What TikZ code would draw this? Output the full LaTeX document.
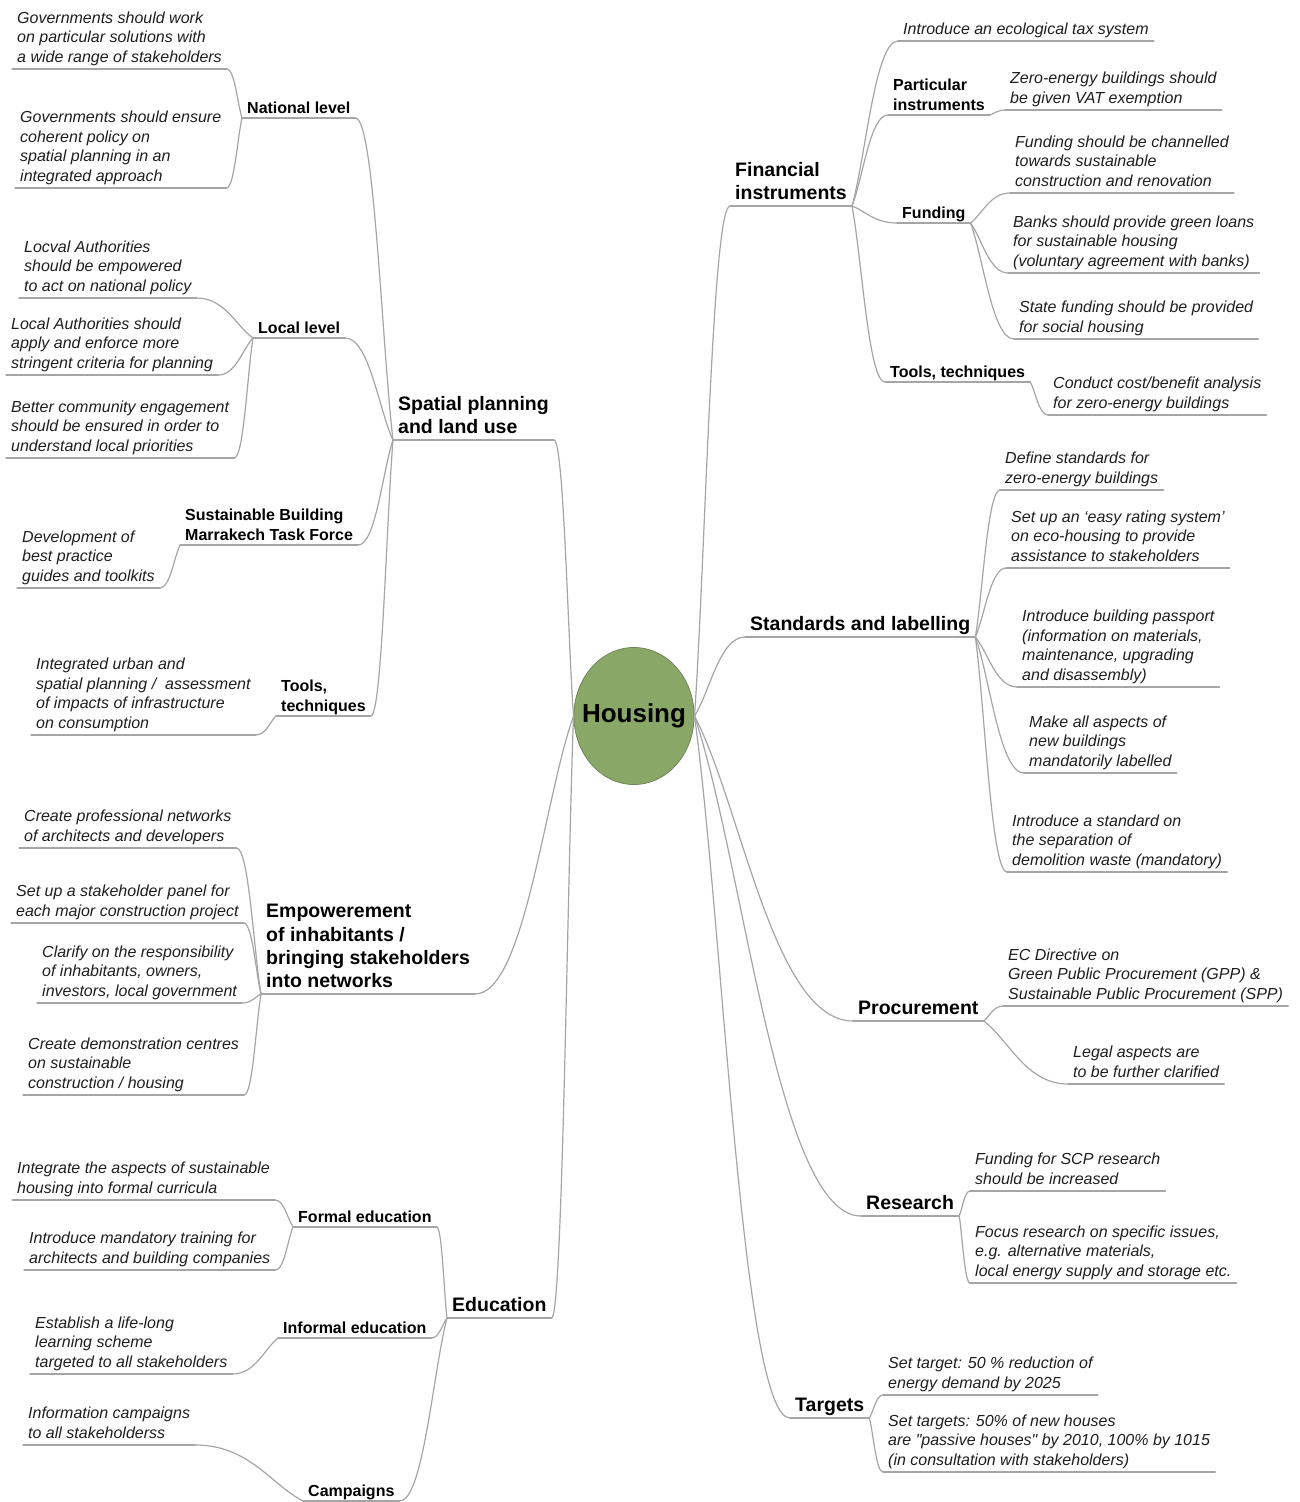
\documentclass[tikz,border=0pt]{standalone}
\usepackage{fontspec}
\setmainfont{Liberation Sans}
\usetikzlibrary{shapes.geometric, calc}
\definecolor{linegray}{RGB}{165,165,165}
\definecolor{textgray}{RGB}{30,30,30}
\definecolor{rootgreen}{RGB}{137,168,103}
\definecolor{rootline}{RGB}{112,132,92}

\begin{document}
\begin{tikzpicture}[x=1pt, y=-1pt,
	root/.style={ellipse, fill=rootgreen, draw=rootline, line width=0.8pt, minimum height=137pt, inner xsep=-9.5pt, inner ysep=0pt, font=\fontsize{26}{30}\selectfont\bfseries},
	under/.style={draw=linegray, line width=1.2pt, line cap=round},
	branch/.style={anchor=south west, align=left, inner xsep=5pt, inner ysep=1pt, font=\fontsize{19.5}{23.3}\selectfont\bfseries, execute at end node={\rule[-5pt]{0pt}{5pt}}, append after command={(\tikzlastnode.south west) edge[under] (\tikzlastnode.south east)}},
	topic/.style={anchor=south west, align=left, inner xsep=5pt, inner ysep=0.5pt, font=\fontsize{16}{19.5}\selectfont\bfseries, execute at end node={\rule[-4pt]{0pt}{4pt}}, append after command={(\tikzlastnode.south west) edge[under] (\tikzlastnode.south east)}},
	leaf/.style={anchor=south west, align=left, inner xsep=5pt, inner ysep=2pt, text=textgray, font=\fontsize{16}{19.5}\selectfont\itshape, execute at end node={\rule[-4.5pt]{0pt}{4.5pt}}, append after command={(\tikzlastnode.south west) edge[under] (\tikzlastnode.south east)}},
	link/.style={under, to path={let \p1=(\tikztostart), \p2=(\tikztotarget) in .. controls ({0.7*\x1+0.3*\x2},{0.7*\y1+0.3*\y2}) and ({0.5*\x1+0.5*\x2},\y2) .. (\tikztotarget)}}]
	\useasboundingbox (0,0) rectangle (1300,1502);

	\node[root] (housing) at (634,716) {Housing};

	\node[branch] (spatial) at (393,440) {Spatial planning\\and land use};
	\node[topic] (national) at (242,118) {National level};
	\node[leaf] (gov1) at (12,69) {Governments should work\\on particular solutions with\\a wide range of stakeholders};
	\node[leaf] (gov2) at (15,188) {Governments should ensure\\coherent policy on\\spatial planning in an\\integrated approach};
	\node[topic] (local) at (253,338) {Local level};
	\node[leaf] (auth1) at (19,298) {Locval Authorities\\should be empowered\\to act on national policy};
	\node[leaf] (auth2) at (6,375) {Local Authorities should\\apply and enforce more\\stringent criteria for planning};
	\node[leaf] (auth3) at (6,458) {Better community engagement\\should be ensured in order to\\understand local priorities};
	\node[topic] (taskforce) at (180,545) {Sustainable Building\\Marrakech Task Force};
	\node[leaf] (guides) at (17,588) {Development of\\best practice\\guides and toolkits};
	\node[topic] (techspat) at (276,716) {Tools,\\techniques};
	\node[leaf] (urban) at (31,735) {Integrated urban and\\spatial planning /~ assessment\\of impacts of infrastructure\\on consumption};

	\node[branch] (empower) at (261,994) {Empowerement\\of inhabitants /\\bringing stakeholders\\into networks};
	\node[leaf] (net1) at (19,848) {Create professional networks\\of architects and developers};
	\node[leaf] (net2) at (11,923) {Set up a stakeholder panel for\\each major construction project};
	\node[leaf] (net3) at (37,1003) {Clarify on the responsibility\\of inhabitants, owners,\\investors, local government};
	\node[leaf] (net4) at (23,1095) {Create demonstration centres\\on sustainable\\construction / housing};

	\node[branch] (edu) at (447,1318) {Education};
	\node[topic] (formal) at (293,1227) {Formal education};
	\node[leaf] (form1) at (12,1200) {Integrate the aspects of sustainable\\housing into formal curricula};
	\node[leaf] (form2) at (24,1270) {Introduce mandatory training for\\architects and building companies};
	\node[topic] (informal) at (278,1338) {Informal education};
	\node[leaf] (inf1) at (30,1374) {Establish a life-long\\learning scheme\\targeted to all stakeholders};
	\node[topic] (campaigns) at (303,1501) {Campaigns};
	\node[leaf] (camp1) at (23,1445) {Information campaigns\\to all stakeholderss};

	\node[branch] (fin) at (730,206) {Financial\\instruments};
	\node[leaf] (tax) at (898,41) {Introduce an ecological tax system};
	\node[topic] (particular) at (888,115) {Particular\\instruments};
	\node[leaf] (vat) at (1005,110) {Zero-energy buildings should\\be given VAT exemption};
	\node[topic] (funding) at (897,223) {Funding};
	\node[leaf] (fund1) at (1010,193) {Funding should be channelled\\towards sustainable\\construction and renovation};
	\node[leaf] (fund2) at (1008,273) {Banks should provide green loans\\for sustainable housing\\(voluntary agreement with banks)};
	\node[leaf] (fund3) at (1014,339) {State funding should be provided\\for social housing};
	\node[topic] (techfin) at (885,382) {Tools, techniques};
	\node[leaf] (cost) at (1048,415) {Conduct cost/benefit analysis\\for zero-energy buildings};

	\node[branch] (std) at (745,637) {Standards and labelling};
	\node[leaf] (std1) at (1000,490) {Define standards for\\zero-energy buildings};
	\node[leaf] (std2) at (1006,568) {Set up an `easy rating system'\\on eco-housing to provide\\assistance to stakeholders};
	\node[leaf] (std3) at (1017,687) {Introduce building passport\\(information on materials,\\maintenance, upgrading\\and disassembly)};
	\node[leaf] (std4) at (1024,773) {Make all aspects of\\new buildings\\mandatorily labelled};
	\node[leaf] (std5) at (1007,872) {Introduce a standard on\\the separation of\\demolition waste (mandatory)};

	\node[branch] (proc) at (853,1021) {Procurement};
	\node[leaf] (proc1) at (1003,1006) {EC Directive on\\Green Public Procurement (GPP) \&\\Sustainable Public Procurement (SPP)};
	\node[leaf] (proc2) at (1068,1084) {Legal aspects are\\to be further clarified};

	\node[branch] (res) at (861,1216) {Research};
	\node[leaf] (res1) at (970,1191) {Funding for SCP research\\should be increased};
	\node[leaf] (res2) at (970,1283) {Focus research on specific issues,\\e.g. alternative materials,\\local energy supply and storage etc.};

	\node[branch] (targets) at (790,1418) {Targets};
	\node[leaf] (tgt1) at (883,1395) {Set target: 50 \% reduction of\\energy demand by 2025};
	\node[leaf] (tgt2) at (883,1472) {Set targets: 50\% of new houses\\are \textquotedbl passive houses\textquotedbl{} by 2010, 100\% by 1015\\(in consultation with stakeholders)};

	\draw[link] (housing.west) edge (spatial.south east);
	\draw[link] (housing.west) edge (empower.south east);
	\draw[link] (housing.west) edge (edu.south east);

	\draw[link] (spatial.south west) edge (national.south east);
	\draw[link] (spatial.south west) edge (local.south east);
	\draw[link] (spatial.south west) edge (taskforce.south east);
	\draw[link] (spatial.south west) edge (techspat.south east);
	\draw[link] (national.south west) edge (gov1.south east);
	\draw[link] (national.south west) edge (gov2.south east);
	\draw[link] (local.south west) edge (auth1.south east);
	\draw[link] (local.south west) edge (auth2.south east);
	\draw[link] (local.south west) edge (auth3.south east);
	\draw[link] (taskforce.south west) edge (guides.south east);
	\draw[link] (techspat.south west) edge (urban.south east);

	\draw[link] (empower.south west) edge (net1.south east);
	\draw[link] (empower.south west) edge (net2.south east);
	\draw[link] (empower.south west) edge (net3.south east);
	\draw[link] (empower.south west) edge (net4.south east);

	\draw[link] (edu.south west) edge (formal.south east);
	\draw[link] (edu.south west) edge (informal.south east);
	\draw[link] (edu.south west) edge (campaigns.south east);
	\draw[link] (formal.south west) edge (form1.south east);
	\draw[link] (formal.south west) edge (form2.south east);
	\draw[link] (informal.south west) edge (inf1.south east);
	\draw[link] (campaigns.south west) edge (camp1.south east);

	\draw[link] (housing.east) edge (fin.south west);
	\draw[link] (housing.east) edge (std.south west);
	\draw[link] (housing.east) edge (proc.south west);
	\draw[link] (housing.east) edge (res.south west);
	\draw[link] (housing.east) edge (targets.south west);

	\draw[link] (fin.south east) edge (tax.south west);
	\draw[link] (fin.south east) edge (particular.south west);
	\draw[link] (fin.south east) edge (funding.south west);
	\draw[link] (fin.south east) edge (techfin.south west);
	\draw[link] (particular.south east) edge (vat.south west);
	\draw[link] (funding.south east) edge (fund1.south west);
	\draw[link] (funding.south east) edge (fund2.south west);
	\draw[link] (funding.south east) edge (fund3.south west);
	\draw[link] (techfin.south east) edge (cost.south west);

	\draw[link] (std.south east) edge (std1.south west);
	\draw[link] (std.south east) edge (std2.south west);
	\draw[link] (std.south east) edge (std3.south west);
	\draw[link] (std.south east) edge (std4.south west);
	\draw[link] (std.south east) edge (std5.south west);

	\draw[link] (proc.south east) edge (proc1.south west);
	\draw[link] (proc.south east) edge (proc2.south west);
	\draw[link] (res.south east) edge (res1.south west);
	\draw[link] (res.south east) edge (res2.south west);
	\draw[link] (targets.south east) edge (tgt1.south west);
	\draw[link] (targets.south east) edge (tgt2.south west);
\end{tikzpicture}
\end{document}
